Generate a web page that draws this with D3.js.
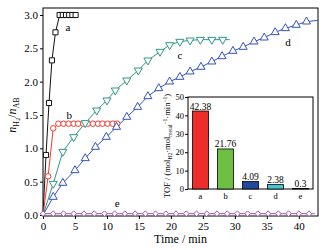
<!DOCTYPE html>
<html>
<head>
<meta charset="utf-8">
<script src="https://cdn.jsdelivr.net/npm/d3@7/dist/d3.min.js"></script>
<style>
  body { margin: 0; background: #fff; }
  text { font-family: "Liberation Serif", "Times New Roman", serif; fill: #000; }
</style>
</head>
<body>
<svg id="chart" width="330" height="250"></svg>
<script>
// curve data: time (min) vs n(H2)/n(AB)
var timeA = [0, 0.47, 0.94, 1.4, 1.95, 2.6, 3.1, 3.6, 4.1, 4.6, 5.1];
var valA  = [0, 0.9, 1.68, 2.32, 2.74, 3.0, 3.0, 3.0, 3.0, 3.0, 3.0];

var timeB = [0, 0.8, 1.6, 2.4, 3.2, 4.0, 4.8, 5.5, 6.3, 7.0, 7.8, 8.6, 9.3, 10.1, 10.9, 11.6];
var valB  = [0, 0.58, 1.3, 1.37, 1.37, 1.37, 1.37, 1.37, 1.37, 1.37, 1.37, 1.37, 1.37, 1.37, 1.37, 1.37];

var timeC = [0, 1.6, 3.1, 4.8, 6.6, 8.4, 10.0, 11.3, 13.1, 14.9, 16.4, 18.3, 19.8, 21.4, 23.0, 24.6, 26.4, 28.1];
var valC  = [0, 0.47, 0.95, 1.17, 1.38, 1.57, 1.72, 1.87, 2.02, 2.17, 2.32, 2.45, 2.55, 2.6, 2.62, 2.63, 2.63, 2.63];
var endC  = 29.2;

var timeD = [0, 1.6, 3.1, 5.0, 6.6, 8.2, 9.9, 11.5, 13.1, 14.8, 16.4, 18.1, 19.8, 21.4, 23.0, 24.7, 26.4, 28.0, 29.7, 31.3, 33.0, 34.6, 36.3, 37.9, 39.6, 41.2];
var valD  = [0, 0.27, 0.48, 0.67, 0.85, 1.02, 1.17, 1.32, 1.47, 1.62, 1.78, 1.9, 2.0, 2.07, 2.15, 2.22, 2.3, 2.38, 2.46, 2.52, 2.6, 2.66, 2.74, 2.8, 2.85, 2.9];
var endD  = [43, 2.92];

var timeE = [0, 1.6, 3.2, 4.8, 6.4, 8.0, 9.6, 11.2, 12.8, 14.4, 16.0, 17.6, 19.2, 20.8, 22.4, 24.0, 25.6, 27.2, 28.8, 30.4, 32.0, 33.6, 35.2, 36.8, 38.4, 40.0, 41.6];
var valE  = timeE.map(function() { return 0.02; });

// curve labels (data coords)
var curveNames = ["a", "b", "c", "d", "e"];
var labelT = [3.9, 4.1, 21.4, 38.3, 11.6];
var labelV = [2.82, 1.5, 2.4, 2.6, 0.18];

// inset TOF bars
var tofCats = ["a", "b", "c", "d", "e"];
var tofVals = [42.38, 21.76, 4.09, 2.38, 0.3];
var tofText = ["42.38", "21.76", "4.09", "2.38", "0.3"];
var tofColors = ["#ec2d2a", "#6dc043", "#23479c", "#4cc3d3", "#222222"];

var xTicks = [0, 5, 10, 15, 20, 25, 30, 35, 40];
var yTicks = [0, 0.5, 1.0, 1.5, 2.0, 2.5, 3.0];
var tofTicks = [0, 10, 20, 30, 40, 50];

var svg = d3.select("#chart");

var x = d3.scaleLinear().domain([0, 43]).range([43, 318]);
var y = d3.scaleLinear().domain([-0.015, 3.105]).range([216, 8]);

// frame
svg.append("rect")
  .attr("x", x.range()[0]).attr("y", y.range()[1])
  .attr("width", x.range()[1] - x.range()[0])
  .attr("height", y.range()[0] - y.range()[1])
  .attr("fill", "none").attr("stroke", "#000").attr("stroke-width", 1);

// axes
var xAxis = svg.append("g")
  .attr("transform", "translate(0," + y.range()[0] + ")")
  .call(d3.axisBottom(x).tickValues(xTicks).tickSize(3).tickPadding(3).tickFormat(d3.format("d")));
var yAxis = svg.append("g")
  .attr("transform", "translate(" + x.range()[0] + ",0)")
  .call(d3.axisLeft(y).tickValues(yTicks).tickSize(3).tickPadding(2).tickFormat(d3.format(".1f")));
[xAxis, yAxis].forEach(function(g) {
  g.select(".domain").remove();
  g.selectAll("text").style("font-size", "11px");
});

// axis titles
svg.append("text")
  .attr("x", (x.range()[0] + x.range()[1]) / 2).attr("y", 243)
  .attr("text-anchor", "middle").style("font-size", "12px")
  .text("Time / min");

var yl = svg.append("text")
  .attr("transform", "translate(16,115) rotate(-90)")
  .attr("text-anchor", "middle").style("font-size", "12px");
yl.append("tspan").style("font-style", "italic").text("n");
yl.append("tspan").attr("dy", 3).style("font-size", "8px").text("H");
yl.append("tspan").attr("dy", 1).style("font-size", "6px").text("2");
yl.append("tspan").attr("dy", -4).text("/");
yl.append("tspan").style("font-style", "italic").text("n");
yl.append("tspan").attr("dy", 3).style("font-size", "8px").text("AB");

function zip(ts, vs) {
  return ts.map(function(t, i) { return [t, vs[i]]; });
}

var line = d3.line().x(function(d) { return x(d[0]); }).y(function(d) { return y(d[1]); });

var series = [
  { pts: zip(timeA, valA), color: "#111111", sym: d3.symbolSquare, size: 26 },
  { pts: zip(timeB, valB), color: "#f23a2f", sym: d3.symbolCircle, size: 24 },
  { pts: zip(timeC, valC), color: "#2f9688", sym: "down", size: 28 },
  { pts: zip(timeD, valD), color: "#3453bd", sym: d3.symbolTriangle, size: 28 },
  { pts: zip(timeE, valE), color: "#a352b3", sym: d3.symbolDiamond2, size: 20 }
];
series[2].line = series[2].pts.concat([[endC, valC[valC.length - 1]]]);
series[3].line = series[3].pts.concat([endD]);
series[4].line = [[0, 0.02], [42.5, 0.02]];

series.forEach(function(s) {
  svg.append("path")
    .attr("d", line(s.line || s.pts))
    .attr("fill", "none").attr("stroke", s.color).attr("stroke-width", 1);
});

series.forEach(function(s) {
  var shape = s.sym === "down" ? d3.symbolTriangle : s.sym;
  var rot = s.sym === "down" ? " rotate(180)" : "";
  svg.append("g").selectAll("path")
    .data(s.pts.filter(function(d) { return d[0] > 0 || s.sym === d3.symbolDiamond2; }))
    .enter().append("path")
    .attr("transform", function(d) { return "translate(" + x(d[0]) + "," + y(d[1]) + ")" + rot; })
    .attr("d", d3.symbol().type(shape).size(s.size))
    .attr("fill", "#fff").attr("stroke", s.color).attr("stroke-width", 1);
});

svg.append("g").selectAll("text")
  .data(curveNames).enter().append("text")
  .attr("x", function(d, i) { return x(labelT[i]); })
  .attr("y", function(d, i) { return y(labelV[i]); })
  .attr("dy", "0.35em").attr("text-anchor", "middle")
  .style("font-size", "11px")
  .text(function(d) { return d; });

// ---- inset ----
var bx = d3.scaleBand().domain(tofCats).range([188, 313]).paddingInner(0.36).paddingOuter(0.18);
var by = d3.scaleLinear().domain([0, 50]).range([189, 97]);

svg.append("rect")
  .attr("x", 188).attr("y", by(50))
  .attr("width", 313 - 188).attr("height", by(0) - by(50))
  .attr("fill", "#fff").attr("stroke", "#000").attr("stroke-width", 1);

svg.append("g").selectAll("rect")
  .data(tofVals).enter().append("rect")
  .attr("x", function(d, i) { return bx(tofCats[i]); })
  .attr("y", function(d) { return by(d); })
  .attr("width", bx.bandwidth())
  .attr("height", function(d) { return by(0) - by(d); })
  .attr("fill", function(d, i) { return tofColors[i]; })
  .attr("stroke", "#000").attr("stroke-width", 0.8);

svg.append("g").selectAll("text")
  .data(tofVals).enter().append("text")
  .attr("x", function(d, i) { return bx(tofCats[i]) + bx.bandwidth() / 2; })
  .attr("y", function(d) { return by(d) - 1.5; })
  .attr("text-anchor", "middle").style("font-size", "9.5px")
  .text(function(d, i) { return tofText[i]; });

var bxAxis = svg.append("g")
  .attr("transform", "translate(0," + by(0) + ")")
  .call(d3.axisBottom(bx).tickSize(0).tickPadding(4));
var byAxis = svg.append("g")
  .attr("transform", "translate(188,0)")
  .call(d3.axisLeft(by).tickValues(tofTicks).tickSize(3).tickPadding(1));
[bxAxis, byAxis].forEach(function(g) {
  g.select(".domain").remove();
  g.selectAll("text").style("font-size", "8.5px");
});

var tl = svg.append("text")
  .attr("transform", "translate(170,146) rotate(-90)")
  .attr("text-anchor", "middle").style("font-size", "8.5px");
tl.append("tspan").text("TOF / (mol");
tl.append("tspan").attr("dy", 2).style("font-size", "5.5px").text("H2");
tl.append("tspan").attr("dy", -2).text("\u00b7mol");
tl.append("tspan").attr("dy", 2).style("font-size", "5.5px").text("metal");
tl.append("tspan").attr("dy", -5).style("font-size", "5.5px").text("\u22121");
tl.append("tspan").attr("dy", 3).text("\u00b7min");
tl.append("tspan").attr("dy", -3).style("font-size", "5.5px").text("\u22121");
tl.append("tspan").attr("dy", 3).text(")");
</script>
</body>
</html>
